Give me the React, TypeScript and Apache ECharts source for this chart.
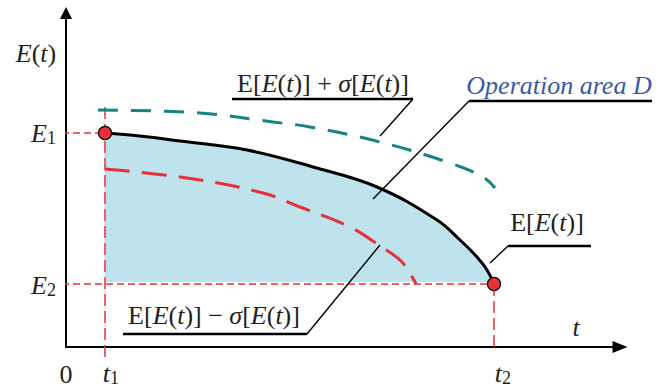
import React, { useEffect, useRef } from "react";
import * as echarts from "echarts";

// Units: horizontal/vertical distance from the origin (pixel-like scale of the schematic)
const T1 = 39;
const T2 = 428;
const E1 = 214;
const E2 = 63;
const AREA_FLOOR = 65;

const meanCurve: number[][] = [
  [39, 214], [74, 211], [114, 206], [181, 197], [247, 180], [311, 160],
  [371, 127], [394, 107], [411, 90], [421, 77], [428, 63],
];
const upperCurve: number[][] = [
  [32, 237], [134, 234], [207, 225], [244, 220], [314, 205], [384, 184], [417, 170], [429, 159],
];
const lowerCurve: number[][] = [
  [39, 178], [121, 169], [197, 154], [234, 140], [284, 120], [314, 101], [336, 85], [350, 63],
];

const tickLabels = ["0", "t", "1", "t", "2", "E", "1", "E", "2"];
const annotationTexts = {
  plus: "{r|E[}{i|E}{r|(}{i|t}{r|)] + }{i|σ}{r|[}{i|E}{r|(}{i|t}{r|)]}",
  minus: "{r|E[}{i|E}{r|(}{i|t}{r|)] − }{i|σ}{r|[}{i|E}{r|(}{i|t}{r|)]}",
  mean: "{r|E[}{i|E}{r|(}{i|t}{r|)]}",
  area: "Operation area D",
  yName: "{i|E}{r|(}{i|t}{r|)}",
};

const FONT = "Liberation Serif, Times New Roman, serif";
const INK = "#231f20";
const RED = "#e8303a";
const TEAL = "#13857f";

const rich = (size: number) => ({
  r: { fontFamily: FONT, fontSize: size, fill: INK, fontStyle: "normal" },
  i: { fontFamily: FONT, fontSize: size, fill: INK, fontStyle: "italic" },
});

function txt(x: number, y: number, text: string, opts: any = {}) {
  return {
    type: "text",
    x,
    y,
    z: 100,
    silent: true,
    style: {
      text,
      fontFamily: FONT,
      fontSize: opts.size ?? 26,
      fontStyle: opts.italic ? "italic" : "normal",
      fill: opts.color ?? INK,
      align: opts.align ?? "center",
      verticalAlign: "middle",
      rich: opts.rich,
    },
  };
}

function seg(pts: number[][], width: number) {
  return {
    type: "polyline",
    z: 100,
    silent: true,
    shape: { points: pts },
    style: { stroke: "#000", lineWidth: width, fill: null },
  };
}

export default function App() {
  const ref = useRef<HTMLDivElement>(null);
  useEffect(() => {
    if (!ref.current) return;
    const chart = echarts.init(ref.current, null, { renderer: "svg" });
    const guide = (data: number[][], dash: number[]) => ({
      type: "line",
      data,
      symbol: "none",
      clip: false,
      silent: true,
      lineStyle: { color: RED, width: 1.5, type: dash },
      z: 3,
    });
    chart.setOption({
      animation: false,
      grid: { left: 66, right: 42, top: 13, bottom: 40 },
      xAxis: {
        type: "value",
        min: 0,
        max: 554,
        axisLine: { show: true, onZero: false, symbol: ["none", "triangle"], symbolSize: [12, 15], lineStyle: { color: "#000", width: 2 } },
        axisTick: { show: false },
        axisLabel: { show: false },
        splitLine: { show: false },
      },
      yAxis: {
        type: "value",
        min: 0,
        max: 334,
        axisLine: { show: true, onZero: false, symbol: ["none", "triangle"], symbolSize: [12, 12], lineStyle: { color: "#000", width: 2 } },
        axisTick: { show: false },
        axisLabel: { show: false },
        splitLine: { show: false },
      },
      series: [
        {
          type: "line",
          data: meanCurve,
          smooth: 0.4,
          symbol: "none",
          lineStyle: { width: 0 },
          areaStyle: { color: "#bee3ec", opacity: 1, origin: AREA_FLOOR },
          z: 1,
          silent: true,
        },
        guide([[-4, E1], [T1, E1]], [7, 4]),
        guide([[-4, E2], [T2, E2]], [7, 4]),
        guide([[T1, 240], [T1, -13]], [12, 5]),
        guide([[T2, E2], [T2, 0]], [12, 5]),
        {
          type: "line",
          data: upperCurve,
          smooth: 0.4,
          symbol: "none",
          clip: false,
          lineStyle: { color: TEAL, width: 3, type: [20, 13] },
          z: 4,
          silent: true,
        },
        {
          type: "line",
          data: lowerCurve,
          smooth: 0.4,
          symbol: "none",
          clip: false,
          lineStyle: { color: RED, width: 3, type: [25, 12] },
          z: 4,
          silent: true,
        },
        {
          type: "line",
          data: meanCurve,
          smooth: 0.4,
          symbol: "none",
          lineStyle: { color: "#000", width: 3 },
          z: 5,
          silent: true,
        },
        {
          type: "scatter",
          data: [[T1, E1], [T2, E2]],
          symbol: "circle",
          symbolSize: 13,
          itemStyle: { color: RED, borderColor: "#000", borderWidth: 1.2, opacity: 1 },
          z: 6,
          silent: true,
        },
      ],
      graphic: [
        txt(36, 53, annotationTexts.yName, { rich: rich(26) }),
        txt(47, 133, tickLabels[5], { italic: true, align: "right" }),
        txt(47, 138, tickLabels[6], { size: 18, align: "left" }),
        txt(47, 285, tickLabels[7], { italic: true, align: "right" }),
        txt(47, 290, tickLabels[8], { size: 18, align: "left" }),
        txt(66, 374, tickLabels[0]),
        txt(110, 373, tickLabels[1], { italic: true, align: "right" }),
        txt(110, 378, tickLabels[2], { size: 18, align: "left" }),
        txt(502, 373, tickLabels[3], { italic: true, align: "right" }),
        txt(502, 378, tickLabels[4], { size: 18, align: "left" }),
        txt(576, 327, "t", { italic: true }),
        txt(323, 83, annotationTexts.plus, { rich: rich(26) }),
        txt(214, 315, annotationTexts.minus, { rich: rich(26) }),
        txt(547, 222, annotationTexts.mean, { rich: rich(26) }),
        txt(559, 85, annotationTexts.area, { italic: true, color: "#3a58a8" }),
        seg([[232, 99], [413, 99]], 2.5),
        seg([[413, 99], [380, 136]], 1.4),
        seg([[469, 101], [652, 101]], 2.5),
        seg([[469, 101], [373, 199]], 1.4),
        seg([[123, 334], [307, 334]], 2.5),
        seg([[307, 334], [380, 245]], 1.4),
        seg([[508, 246], [591, 246]], 2.5),
        seg([[508, 246], [490, 263]], 1.4),
      ],
    });
    return () => chart.dispose();
  }, []);
  return <div ref={ref} style={{ width: 662, height: 387, position: "absolute", left: 0, top: 0 }} />;
}
